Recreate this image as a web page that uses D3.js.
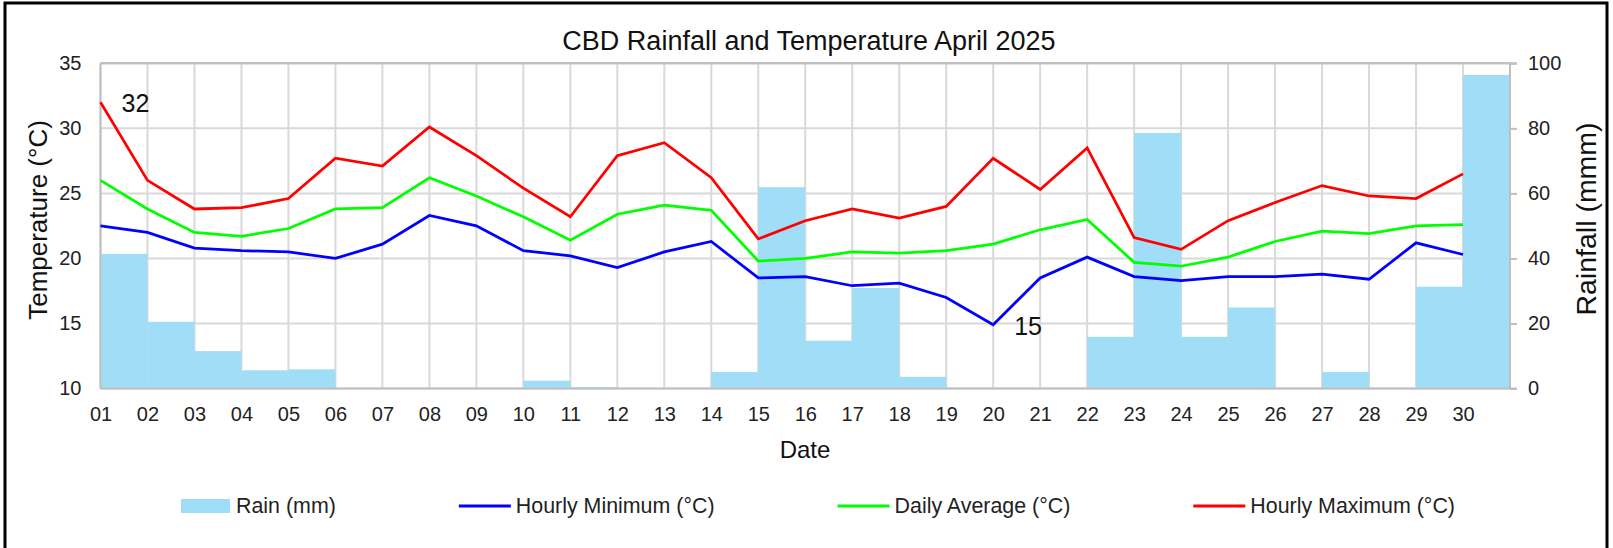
<!DOCTYPE html>
<html>
<head>
<meta charset="utf-8">
<script src="https://cdn.jsdelivr.net/npm/d3@7"></script>
<style>
  html, body { margin: 0; padding: 0; background: #fff; }
  svg { display: block; font-family: "Liberation Sans", Arial, sans-serif; }
</style>
</head>
<body>
<svg id="chart" width="1613" height="548"></svg>
<script>
// ---------- data ----------
const days = ["01","02","03","04","05","06","07","08","09","10",
              "11","12","13","14","15","16","17","18","19","20",
              "21","22","23","24","25","26","27","28","29","30"];
const rain = [41.4, 20.5, 11.5, 5.6, 5.9, 0, 0, 0, 0, 2.4,
              0.4, 0, 0, 5.1, 61.9, 14.7, 30.9, 3.6, 0, 0,
              0, 15.9, 78.6, 15.9, 24.9, 0, 5.1, 0, 31.3, 96.4];
const tMin = [22.5, 22.0, 20.8, 20.6, 20.5, 20.0, 21.1, 23.3, 22.5, 20.6,
              20.2, 19.3, 20.5, 21.3, 18.5, 18.6, 17.9, 18.1, 17.0, 14.9,
              18.5, 20.1, 18.6, 18.3, 18.6, 18.6, 18.8, 18.4, 21.2, 20.3];
const tAvg = [26.0, 23.8, 22.0, 21.7, 22.3, 23.8, 23.9, 26.2, 24.8, 23.2,
              21.4, 23.4, 24.1, 23.7, 19.8, 20.0, 20.5, 20.4, 20.6, 21.1,
              22.2, 23.0, 19.7, 19.4, 20.1, 21.3, 22.1, 21.9, 22.5, 22.6];
const tMax = [32.0, 26.0, 23.8, 23.9, 24.6, 27.7, 27.1, 30.1, 27.9, 25.4,
              23.2, 27.9, 28.9, 26.2, 21.5, 22.9, 23.8, 23.1, 24.0, 27.7,
              25.3, 28.5, 21.6, 20.7, 22.9, 24.3, 25.6, 24.8, 24.6, 26.5];
const tempTicks = [10, 15, 20, 25, 30, 35];
const rainTicks = [0, 20, 40, 60, 80, 100];
// data labels: [series key, day]
const dataLabels = [["max", "01"], ["min", "20"]];

const title = "CBD Rainfall and Temperature April 2025";
const xTitle = "Date";
const yTitleLeft = "Temperature (°C)";
const yTitleRight = "Rainfall (mmm)";
const legendLabels = ["Rain (mm)", "Hourly Minimum (°C)", "Daily Average (°C)", "Hourly Maximum (°C)"];

// ---------- layout ----------
const plot = { left: 100.5, right: 1510, top: 63.3, bottom: 388.5 };
const colors = { rain: "#9fdef6", min: "#0000ff", avg: "#00ff00", max: "#ff0000",
                 grid: "#d9d9d9", axis: "#bfbfbf", text: "#222" };

const svg = d3.select("#chart");

// outer frame
svg.append("rect").attr("x", 5).attr("y", 3).attr("width", 1602).attr("height", 560)
   .attr("fill", "#fff").attr("stroke", "#000").attr("stroke-width", 3);

const xBand = d3.scaleBand().domain(days).range([plot.left, plot.right]).padding(0);
const bw = xBand.bandwidth();
const xPt = d3.scalePoint().domain(days).range([plot.left, plot.left + bw * (days.length - 1)]);
const yT = d3.scaleLinear().domain([10, 35]).range([plot.bottom, plot.top]);
const yR = d3.scaleLinear().domain([0, 100]).range([plot.bottom, plot.top]);

// gridlines
const g = svg.append("g");
g.selectAll("line.hg").data(tempTicks).enter().append("line")
  .attr("x1", plot.left).attr("x2", plot.right)
  .attr("y1", d => yT(d)).attr("y2", d => yT(d))
  .attr("stroke", d => d === 35 ? colors.axis : colors.grid).attr("stroke-width", 2);
g.selectAll("line.vg").data(days).enter().append("line")
  .attr("x1", d => xPt(d)).attr("x2", d => xPt(d))
  .attr("y1", plot.top).attr("y2", plot.bottom)
  .attr("stroke", colors.grid).attr("stroke-width", 2);

// rain bars
svg.append("g").selectAll("rect").data(days).enter().append("rect")
  .attr("x", d => xBand(d)).attr("width", bw)
  .attr("y", (d, i) => yR(rain[i])).attr("height", (d, i) => yR(0) - yR(rain[i]))
  .attr("fill", colors.rain);

// axis lines
svg.append("line").attr("x1", plot.left).attr("x2", plot.left).attr("y1", plot.top).attr("y2", plot.bottom)
  .attr("stroke", colors.axis).attr("stroke-width", 2);
svg.append("line").attr("x1", plot.right).attr("x2", plot.right).attr("y1", plot.top).attr("y2", plot.bottom)
  .attr("stroke", colors.axis).attr("stroke-width", 2);
svg.append("line").attr("x1", plot.left).attr("x2", plot.right + 7).attr("y1", plot.bottom).attr("y2", plot.bottom)
  .attr("stroke", colors.axis).attr("stroke-width", 2);
svg.append("line").attr("x1", plot.left).attr("x2", plot.right + 7).attr("y1", plot.top).attr("y2", plot.top)
  .attr("stroke", colors.axis).attr("stroke-width", 2);

// lines
const series = [
  { key: "min", vals: tMin },
  { key: "avg", vals: tAvg },
  { key: "max", vals: tMax }
];
const lineGen = d3.line().x((d, i) => xPt(days[i])).y(d => yT(d));
series.forEach(s => {
  svg.append("path").datum(s.vals).attr("d", lineGen)
    .attr("fill", "none").attr("stroke", colors[s.key]).attr("stroke-width", 2.75)
    .attr("stroke-linejoin", "miter");
});

// data labels
const seriesByKey = { min: tMin, avg: tAvg, max: tMax };
dataLabels.forEach(([k, day]) => {
  const i = days.indexOf(day);
  const v = seriesByKey[k][i];
  svg.append("text").attr("x", xPt(day) + 21).attr("y", yT(v) + 10)
    .attr("font-size", 25).attr("fill", "#111").text(d3.format(".0f")(v));
});

// left axis
const axL = svg.append("g").attr("transform", `translate(${plot.left},0)`)
  .call(d3.axisLeft(yT).tickValues(tempTicks).tickSize(0).tickPadding(19));
axL.select(".domain").remove();
axL.selectAll("text").attr("font-size", 20).attr("fill", colors.text)
  .attr("font-family", "Liberation Sans, Arial, sans-serif");

// right axis
const axR = svg.append("g").attr("transform", `translate(${plot.right},0)`)
  .call(d3.axisRight(yR).tickValues(rainTicks).tickSize(7).tickPadding(11));
axR.select(".domain").remove();
axR.selectAll("line").attr("stroke", colors.axis).attr("stroke-width", 2);
axR.selectAll("text").attr("font-size", 20).attr("fill", colors.text)
  .attr("font-family", "Liberation Sans, Arial, sans-serif");

// bottom axis
const axB = svg.append("g").attr("transform", `translate(0,${plot.bottom})`)
  .call(d3.axisBottom(xPt).tickSize(0).tickPadding(18));
axB.select(".domain").remove();
axB.selectAll("text").attr("font-size", 20).attr("fill", colors.text)
  .attr("font-family", "Liberation Sans, Arial, sans-serif");

// titles
svg.append("text").attr("x", 809).attr("y", 50).attr("text-anchor", "middle")
  .attr("font-size", 27).attr("fill", "#111").text(title);
svg.append("text").attr("x", 805).attr("y", 458).attr("text-anchor", "middle")
  .attr("font-size", 24).attr("fill", "#111").text(xTitle);
svg.append("text").attr("transform", "translate(47,220) rotate(-90)").attr("text-anchor", "middle")
  .attr("font-size", 26).attr("fill", "#111").text(yTitleLeft);
svg.append("text").attr("transform", "translate(1596,219) rotate(-90)").attr("text-anchor", "middle")
  .attr("font-size", 28.5).attr("fill", "#111").text(yTitleRight);

// legend
const legend = svg.append("g");
let lx = 181;
const ly = 506;
legendLabels.forEach((lab, i) => {
  const item = legend.append("g");
  if (i === 0) {
    item.append("rect").attr("x", lx).attr("y", ly - 7).attr("width", 49).attr("height", 14).attr("fill", colors.rain);
  } else {
    const key = ["min", "avg", "max"][i - 1];
    item.append("line").attr("x1", lx).attr("x2", lx + 52).attr("y1", ly).attr("y2", ly)
      .attr("stroke", colors[key]).attr("stroke-width", 3);
  }
  const tx = lx + (i === 0 ? 55 : 57);
  const t = item.append("text").attr("x", tx).attr("y", ly + 7).attr("font-size", 21.4)
    .attr("fill", colors.text).text(lab);
  const w = t.node().getComputedTextLength();
  lx = tx + w + 123;
});
</script>
</body>
</html>
